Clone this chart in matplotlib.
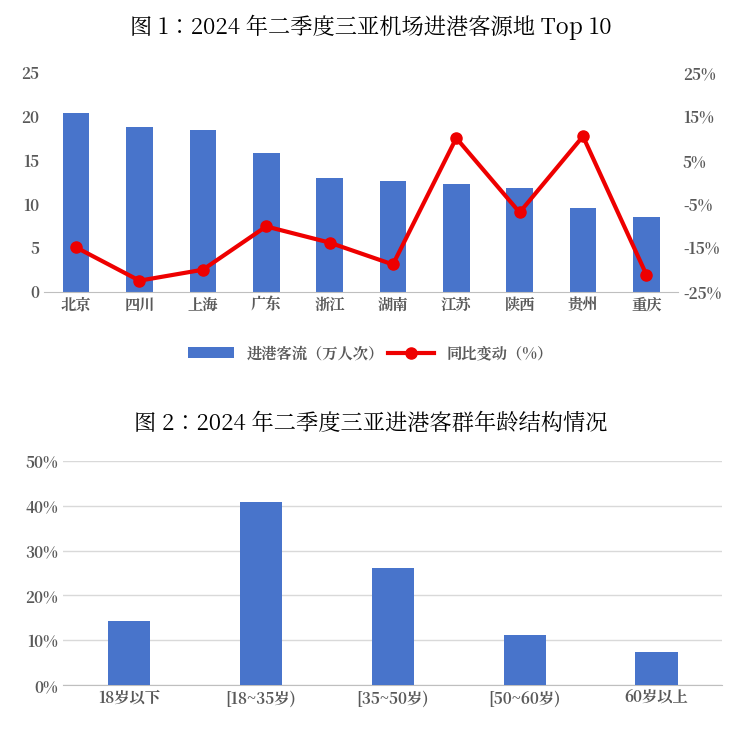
import matplotlib
matplotlib.use("Agg")
import matplotlib.pyplot as plt
from matplotlib import font_manager
from matplotlib.ticker import FuncFormatter

# find an installed CJK font
cjk = [f.name for f in font_manager.fontManager.ttflist if "CJK" in f.name]
plt.rcParams["font.family"] = (["Noto Sans CJK SC"] if "Noto Sans CJK SC" in cjk else cjk[:1]) + ["DejaVu Sans"]

# Chart 1 data
cities = ["北京", "四川", "上海", "广东", "浙江", "湖南", "江苏", "陕西", "贵州", "重庆"]
arrivals = [20.4, 18.8, 18.5, 15.9, 13.0, 12.6, 12.3, 11.8, 9.5, 8.5]
yoy_change = [-14.9, -22.5, -20.0, -10.1, -13.8, -18.8, 10.1, -6.9, 10.5, -21.1]

# Chart 2 data
age_groups = ["18岁以下", "[18~35岁)", "[35~50岁)", "[50~60岁)", "60岁以上"]
age_share = [14.3, 40.8, 26.1, 11.2, 7.4]

BLUE = "#4874CB"
RED = "#EE0000"
GREY = "#595959"

fig = plt.figure(figsize=(7.41, 7.29), dpi=100)

# ---- top chart ----
ax1 = fig.add_axes([0.06, 0.60, 0.855, 0.30])
x = range(len(cities))
ax1.bar(x, arrivals, width=0.42, color=BLUE, label="进港客流（万人次）")
ax1.set_ylim(0, 25)
ax1.set_yticks(range(0, 26, 5))
ax1.set_xlim(-0.5, len(cities) - 0.5)
ax1.set_xticks(list(x))
ax1.set_xticklabels(cities, fontweight="bold", color=GREY, fontsize=11)
for s in ["top", "right", "left"]:
    ax1.spines[s].set_visible(False)
ax1.spines["bottom"].set_color("#BFBFBF")
ax1.tick_params(length=0, labelsize=11, colors=GREY)
for lab in ax1.get_yticklabels():
    lab.set_fontweight("bold")

ax2 = ax1.twinx()
ax2.plot(x, yoy_change, color=RED, lw=3, marker="o", ms=8, label="同比变动（%）")
ax2.set_ylim(-25, 25)
ax2.set_yticks(range(-25, 26, 10))
ax2.yaxis.set_major_formatter(FuncFormatter(lambda v, p: f"{v:.0f}%"))
for s in ["top", "right", "left", "bottom"]:
    ax2.spines[s].set_visible(False)
ax2.tick_params(length=0, labelsize=11, colors=GREY)
for lab in ax2.get_yticklabels():
    lab.set_fontweight("bold")

h1, l1 = ax1.get_legend_handles_labels()
h2, l2 = ax2.get_legend_handles_labels()
leg = fig.legend(h1 + h2, l1 + l2, loc="center", bbox_to_anchor=(0.5, 0.515),
                 ncol=2, frameon=False, fontsize=11, handlelength=3, columnspacing=0.3)
for t in leg.get_texts():
    t.set_color(GREY)
    t.set_fontweight("bold")

fig.text(0.5, 0.963, "图 1：2024 年二季度三亚机场进港客源地 Top 10", ha="center",
         va="center", fontsize=16)

# ---- bottom chart ----
ax3 = fig.add_axes([0.085, 0.06, 0.89, 0.308])
xb = range(len(age_groups))
ax3.bar(xb, age_share, width=0.32, color=BLUE, zorder=3)
ax3.set_ylim(0, 50)
ax3.set_yticks(range(0, 51, 10))
ax3.yaxis.set_major_formatter(FuncFormatter(lambda v, p: f"{v:.0f}%"))
ax3.set_xlim(-0.5, len(age_groups) - 0.5)
ax3.set_xticks(list(xb))
ax3.set_xticklabels(age_groups, fontweight="bold", color=GREY, fontsize=11)
ax3.grid(axis="y", color="#D9D9D9", lw=1, zorder=0)
for s in ["top", "right", "left"]:
    ax3.spines[s].set_visible(False)
ax3.spines["bottom"].set_color("#BFBFBF")
ax3.tick_params(length=0, labelsize=11, colors=GREY)
for lab in ax3.get_yticklabels():
    lab.set_fontweight("bold")

fig.text(0.5, 0.418, "图 2：2024 年二季度三亚进港客群年龄结构情况", ha="center",
         va="center", fontsize=16)

fig.savefig("out.png", dpi=100)
